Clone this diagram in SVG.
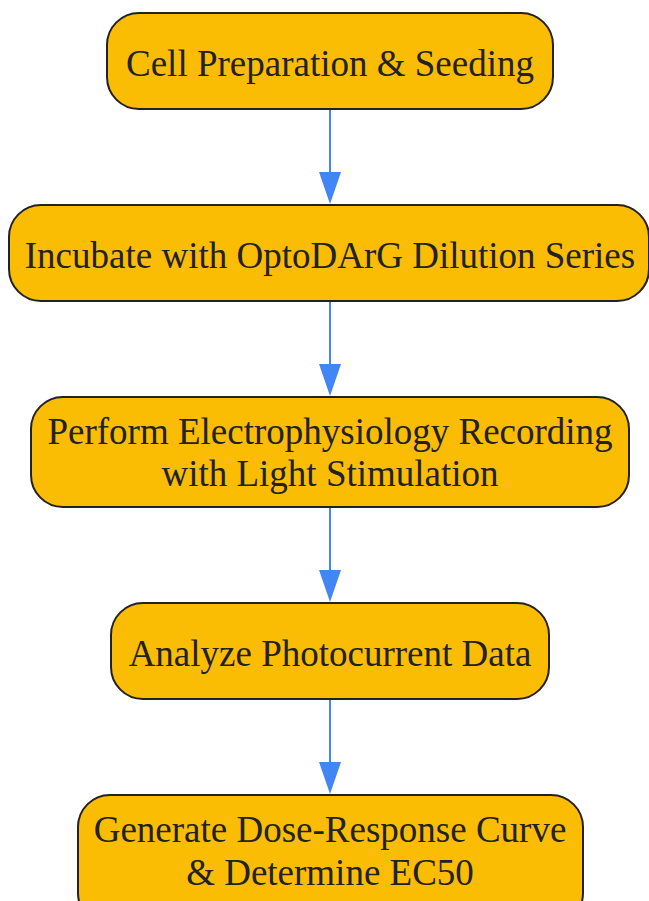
<svg xmlns="http://www.w3.org/2000/svg" width="649" height="901" viewBox="0 0 649 901">
<defs>
<style>
.node rect{fill:#FBBC04;stroke:#222;stroke-width:2}
.node text{font-family:"Liberation Serif","Times New Roman",serif;font-size:37px;fill:#222;text-anchor:middle}
.edge{stroke:#4285F4;stroke-width:2;fill:none}
.head{fill:#4285F4}
</style>
</defs>
<rect width="649" height="901" fill="#fff"/>
<g id="edges">
<line class="edge" x1="330" y1="109" x2="330" y2="180"/>
<path class="head" d="M319,172 L330,204 L341,172 z"/>
<line class="edge" x1="330" y1="301" x2="330" y2="372"/>
<path class="head" d="M319,364 L330,396 L341,364 z"/>
<line class="edge" x1="330" y1="507" x2="330" y2="578"/>
<path class="head" d="M319,570 L330,602 L341,570 z"/>
<line class="edge" x1="330" y1="699" x2="330" y2="770"/>
<path class="head" d="M319,762 L330,794 L341,762 z"/>
</g>
<g id="n1" class="node"><rect x="107" y="13" width="446" height="96" rx="32"/><text x="330" y="76">Cell Preparation &amp; Seeding</text></g>
<g id="n2" class="node"><rect x="9" y="205" width="640" height="96" rx="32"/><text x="330" y="268">Incubate with OptoDArG Dilution Series</text></g>
<g id="n3" class="node"><rect x="31" y="397" width="598" height="110" rx="32"/><text x="330" y="444">Perform Electrophysiology Recording</text><text x="330" y="486">with Light Stimulation</text></g>
<g id="n4" class="node"><rect x="111" y="603" width="438" height="96" rx="32"/><text x="330" y="666">Analyze Photocurrent Data</text></g>
<g id="n5" class="node"><rect x="78" y="795" width="505" height="130" rx="32"/><text x="330" y="842">Generate Dose-Response Curve</text><text x="330" y="885">&amp; Determine EC50</text></g>
</svg>
